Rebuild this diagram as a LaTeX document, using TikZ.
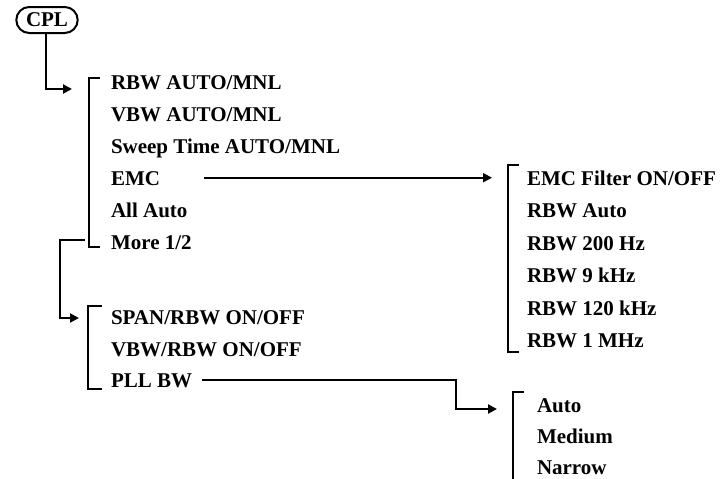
\documentclass[tikz,border=0pt]{standalone}
\usepackage{fontspec}
\setmainfont{Liberation Serif}
\usetikzlibrary{arrows.meta}
\begin{document}
\begin{tikzpicture}[x=1pt,y=-1pt,line width=2pt,
  item/.style={anchor=base west,inner sep=0pt,font=\fontsize{21}{25}\selectfont\bfseries},
  key/.style={draw,rounded corners=13pt,minimum height=26pt,inner xsep=9.7pt,inner ysep=0pt,font=\fontsize{21}{25}\selectfont\bfseries},
  arr/.style={-{Triangle[length=9pt,width=9pt]}},
  brk/.style={line cap=butt,line join=miter}]
\useasboundingbox (0,0) rectangle (721,479);
% key
\node[key] (cpl) at (47,20) {CPL\hspace{10pt}};
% group 1
\node[item] (g1a) at (110,89) {RBW AUTO/MNL};
\node[item] (g1b) at (110,121) {VBW AUTO/MNL};
\node[item] (g1c) at (110,153) {Sweep Time AUTO/MNL};
\node[item] (g1d) at (110,185) {EMC};
\node[item] (g1e) at (110,217) {All Auto};
\node[item] (g1f) at (110,249) {More 1/2};
% EMC group
\node[item] (e1) at (526,185) {EMC Filter ON/OFF};
\node[item] (e2) at (526,217.5) {RBW Auto};
\node[item] (e3) at (526,250) {RBW 200 Hz};
\node[item] (e4) at (526,282.5) {RBW 9 kHz};
\node[item] (e5) at (526,315) {RBW 120 kHz};
\node[item] (e6) at (526,347.5) {RBW 1 MHz};
% group 2
\node[item] (g2a) at (110,324.5) {SPAN/RBW ON/OFF};
\node[item] (g2b) at (110,356) {VBW/RBW ON/OFF};
\node[item] (g2c) at (110,387.5) {PLL BW};
% group 3
\node[item] (p1) at (536,412.5) {Auto};
\node[item] (p2) at (536,443.5) {Medium};
\node[item] (p3) at (536,474.5) {Narrow};
% brackets
\draw[brk] (100,78) -- (89,78) -- (89,247) -- (100,247);
\draw[brk] (519,165) -- (507.5,165) -- (507.5,352) -- (519,352);
\draw[brk] (102,306) -- (88,306) -- (88,389) -- (102,389);
\draw[brk] (524,392) -- (513,392) -- (513,480);
% connectors
\coordinate (t1) at (72,89);
\coordinate (t2) at (79,318);
\coordinate (t3) at (492,177.7);
\coordinate (t4) at (497,409);
\coordinate (m1) at (85,240);
\coordinate (s3) at (204,177.7);
\coordinate (s4) at (202,380);
\draw[arr] (cpl.south -| 46,0) |- (t1);
\draw[arr] (m1) -- (60,240) |- (t2);
\draw[arr] (s3) -- (t3);
\draw[arr] (s4) -| (456,409) -- (t4);
\end{tikzpicture}
\end{document}
